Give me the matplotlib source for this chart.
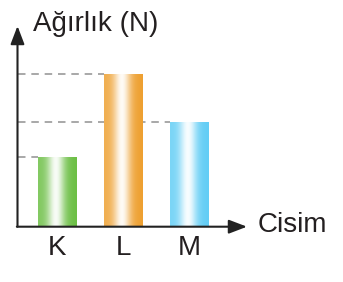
import numpy as np
import matplotlib
matplotlib.use("Agg")
import matplotlib.pyplot as plt
from matplotlib.colors import to_rgb

categories = ["K", "L", "M"]
values = [2.0, 4.35, 3.0]
colors = ["#6cbf45", "#eea030", "#62cdf5"]
ylabel = "Ağırlık (N)"
xlabel = "Cisim"

plt.rcParams['font.family'] = ['Liberation Sans', 'DejaVu Sans']

W, H = 343, 282
fig = plt.figure(figsize=(W / 100, H / 100), dpi=100)
# axes box in pixel coords: x 18..247, y 26..227 (top-down)
x0, x1, yt, yb = 17.5, 247, 26, 226.7
ax = fig.add_axes([x0 / W, (H - yb) / H, (x1 - x0) / W, (yb - yt) / H])
ax.set_axis_off()

pos = np.arange(len(categories))
spacing = 66.0
xl = -(57 - x0) / spacing
xr = 2 + (x1 - 189.5) / spacing
unit = 35.0
width = 38.0 / spacing
ymax = (yb - yt) / unit

# dashed reference lines (from axis to bar's left edge)
for p, v in zip(pos, values):
    ax.plot([xl, p - width / 2], [v, v], color="#9a9a9a", lw=1.2,
            ls=(0, (4.5, 3.5)), zorder=1)

bars = ax.bar(pos, values, width=width, color=colors, zorder=2, linewidth=0)

t = np.linspace(0, 1, 200)
wprof = 0.95 * np.exp(-((t - 0.46) / 0.22) ** 2)
for b, c in zip(bars, colors):
    rgb = np.array(to_rgb(c))
    base = 1 - (1 - rgb[None, :]) * (0.85 + 0.15 * t[:, None])
    img = base * (1 - wprof[:, None]) + wprof[:, None] * 1.0
    img = img[None, :, :]
    xb, yb0 = b.get_x(), b.get_y()
    im = ax.imshow(img, extent=[xb, xb + b.get_width(), yb0, yb0 + b.get_height()],
                   aspect="auto", zorder=3, interpolation="bilinear")
    im.set_clip_path(b)

ax.set_xlim(xl, xr)
ax.set_ylim(0, ymax)

# axes with arrows
style = "-|>,head_length=1.1,head_width=0.42"
ax.annotate("", xy=(xl, ymax), xytext=(xl, 0),
            arrowprops=dict(arrowstyle=style, color="#222222", lw=1.5,
                            shrinkA=0, shrinkB=0),
            annotation_clip=False, zorder=5)
ax.annotate("", xy=(xr, 0), xytext=(xl - 0.01, 0),
            arrowprops=dict(arrowstyle=style, color="#222222", lw=1.5,
                            shrinkA=0, shrinkB=0),
            annotation_clip=False, zorder=5)

for p, c in zip(pos, categories):
    ax.text(p, -21 / unit, c, ha="center", va="center", fontsize=20, color="#231f20")

fig.text(33 / W, 1 - 24 / H, ylabel, ha="left", va="center", fontsize=20, color="#231f20")
fig.text(258 / W, 1 - 225 / H, xlabel, ha="left", va="center", fontsize=20, color="#231f20")

fig.savefig("out.png", dpi=100)
